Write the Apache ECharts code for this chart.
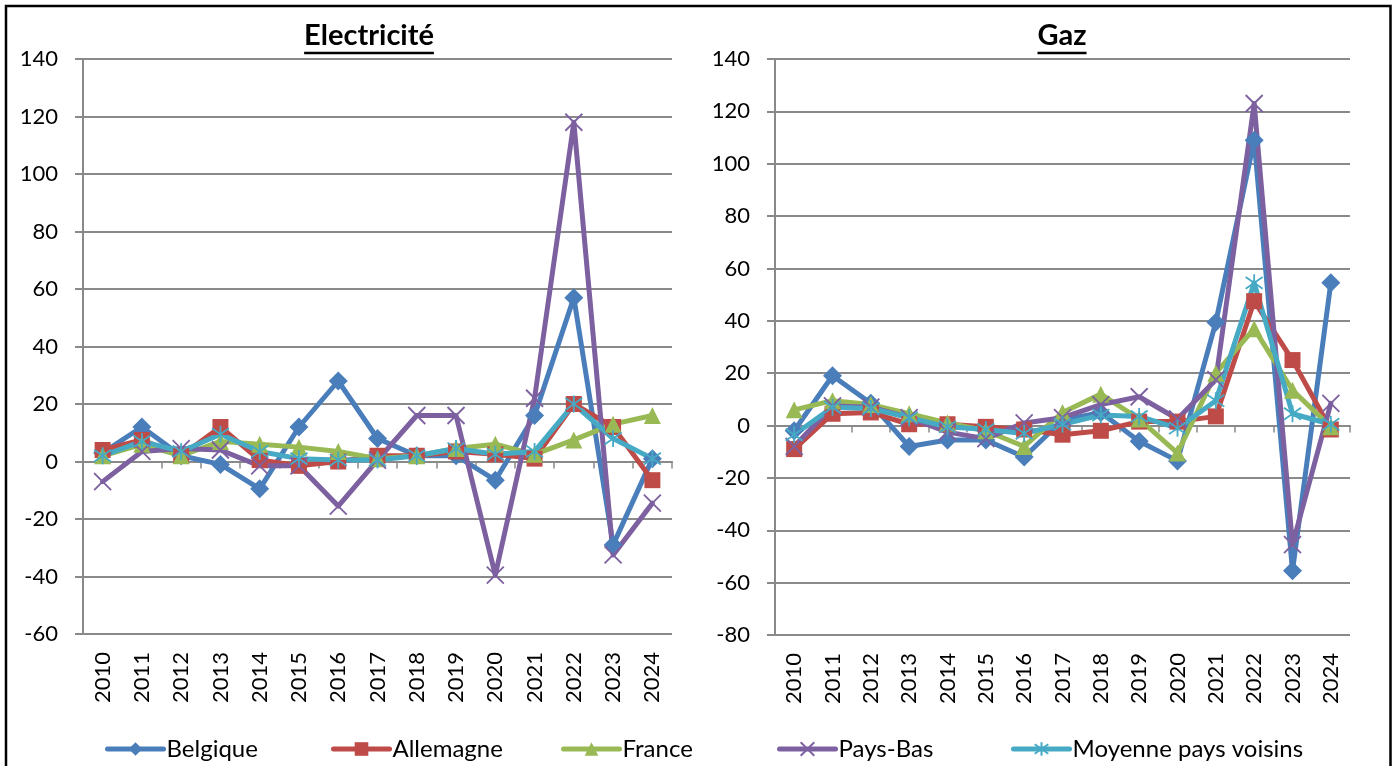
<!DOCTYPE html>
<html>
<head>
<meta charset="utf-8">
<title>Electricité / Gaz</title>
<script src="https://cdn.jsdelivr.net/npm/echarts@6.0.0/dist/echarts.min.js"></script>
<style>
  html, body { margin: 0; padding: 0; background: #fff; }
  #main { width: 1399px; height: 766px; }
</style>
</head>
<body>
<div id="main"></div>
<script>
// années (axe x)
var years = ['2010', '2011', '2012', '2013', '2014', '2015', '2016', '2017', '2018', '2019', '2020', '2021', '2022', '2023', '2024'];

// Electricité
var elecBelgique  = [3, 12, 2, -1, -9.5, 12, 28, 8, 2, 2, -6.5, 16, 57, -29, 1];
var elecAllemagne = [4, 7.5, 2, 12, 0.5, -1.5, 0, 2, 2, 3.5, 2.5, 1, 20, 12, -6.5];
var elecFrance    = [2, 6, 2, 7, 6, 5, 3.5, 1, 2, 4.5, 6, 2.5, 7.5, 13, 16];
var elecPaysBas   = [-7, 3.5, 4.5, 4, -1.5, -1.5, -15.5, 0.5, 16, 16, -39.5, 22, 118, -32.5, -14.5];
var elecMoyenne   = [2, 7, 3.5, 9.5, 3.5, 1, 0.5, 0.5, 2, 4.5, 2.5, 3.5, 20, 8, 1];

// Gaz
var gazBelgique  = [-2, 19, 8.5, -8, -5.5, -5.5, -12, 2, 5, -6, -13.5, 39.5, 109, -55.5, 54.5];
var gazAllemagne = [-9, 4.5, 5, 0.5, 0.5, -0.5, -1.5, -3.5, -2, 1.5, 1.5, 3.5, 47.5, 25, -1.5];
var gazFrance    = [6, 9.5, 8, 4.5, 1, -2, -8, 5, 12, 2.5, -10.5, 20, 37, 13.5, -0.5];
var gazPaysBas   = [-8, 7.5, 7, 3, -2.5, -5, 1, 3, 8, 11, 2.5, 17.5, 123, -45.5, 8.5];
var gazMoyenne   = [-3.5, 7, 6.5, 3, -0.5, -1.5, -3, 0.5, 4, 3.5, -1, 9.5, 54.5, 4.5, 0.5];

// bornes des axes y
var elecTicks = { min: -60, max: 140, interval: 20 };
var gazTicks  = { min: -80, max: 140, interval: 20 };

var FONT = 'Lato';
var GRAY = '#898989';

// style de chaque pays
var styles = {
    'Belgique':  { color: '#4A7EBB', symbol: 'diamond', size: 19 },
    'Allemagne': { color: '#BE4B48', symbol: 'rect', size: 16 },
    'France':    { color: '#98B954', symbol: 'triangle', size: 17 },
    'Pays-Bas':  { color: '#7D60A0', symbol: 'path://M0,0L10,10M10,0L0,10', size: 17, stroke: true },
    'Moyenne pays voisins': { color: '#46AAC5', symbol: 'path://M5,0L5,10M1.5,1.5L8.5,8.5M8.5,1.5L1.5,8.5', size: 17, stroke: true }
};

function makeSeries(name, data, idx) {
    var s = styles[name];
    return {
        name: name,
        type: 'line',
        data: data,
        xAxisIndex: idx * 2,
        yAxisIndex: idx,
        symbol: s.symbol,
        symbolSize: s.size,
        showAllSymbol: true,
        lineStyle: { color: s.color, width: 5, cap: 'round', join: 'round' },
        itemStyle: {
            color: s.color,
            borderColor: s.color,
            borderWidth: s.stroke ? 1.8 : 0
        },
        emphasis: { disabled: true },
        animation: false
    };
}

function xAxes(gridIdx) {
    return [
        // ligne du zéro avec graduations
        {
            type: 'category', gridIndex: gridIdx, data: years, position: 'bottom',
            boundaryGap: true,
            axisLine: { onZero: true, lineStyle: { color: GRAY, width: 2 } },
            axisTick: { show: true, length: 7, lineStyle: { color: GRAY, width: 1.5 } },
            axisLabel: { show: false },
            splitLine: { show: false }
        },
        // étiquettes en bas
        {
            type: 'category', gridIndex: gridIdx, data: years, position: 'bottom',
            boundaryGap: true,
            axisLine: { show: false, onZero: false },
            axisTick: { show: false },
            axisLabel: { rotate: 90, margin: 18, fontSize: 22, fontFamily: FONT, color: '#000' },
            splitLine: { show: false }
        }
    ];
}

function yAxis(gridIdx, t) {
    return {
        type: 'value', gridIndex: gridIdx,
        min: t.min, max: t.max, interval: t.interval,
        axisLine: { show: true, lineStyle: { color: GRAY, width: 2 } },
        axisTick: { show: true, length: 8, lineStyle: { color: GRAY, width: 2 } },
        axisLabel: { margin: 25, fontSize: 22, fontFamily: FONT, color: '#000' },
        splitLine: { show: true, lineStyle: { color: GRAY, width: 2 } }
    };
}

// largeur des titres pour le soulignement
var TITLE_FONT = 'bold 29px ' + FONT;
var ctx = document.createElement('canvas').getContext('2d');
ctx.font = TITLE_FONT;
function titleGraphic(text, cx) {
    var w = ctx.measureText(text).width;
    return [
        {
            type: 'text', x: cx, y: 50,
            style: { text: text, font: TITLE_FONT, fill: '#000', textAlign: 'center', textVerticalAlign: 'bottom' }
        },
        {
            type: 'line',
            shape: { x1: cx - w / 2, y1: 53, x2: cx + w / 2, y2: 53 },
            style: { stroke: '#000', lineWidth: 2.5 }
        }
    ];
}

function legendItem(name, left) {
    return {
        data: [name],
        left: left, top: 732,
        itemWidth: 56, itemHeight: 17, itemGap: 4,
        lineStyle: { width: 5, cap: 'round' },
        textStyle: { fontSize: 24, fontFamily: FONT, color: '#000', padding: [0, 0, 0, -2] },
        selectedMode: false
    };
}

var myChart = echarts.init(document.getElementById('main'));

var option = {
    backgroundColor: '#fff',
    animation: false,
    grid: [
        { left: 83, top: 59, width: 589, height: 575 },
        { left: 775, top: 59, width: 575, height: 576 }
    ],
    xAxis: xAxes(0).concat(xAxes(1)),
    yAxis: [yAxis(0, elecTicks), yAxis(1, gazTicks)],
    legend: [
        legendItem('Belgique', 100),
        legendItem('Allemagne', 326),
        legendItem('France', 556),
        legendItem('Pays-Bas', 772),
        legendItem('Moyenne pays voisins', 1006)
    ],
    graphic: [
        {
            type: 'rect',
            shape: { x: 6, y: 6, width: 1384.5, height: 800 },
            style: { fill: 'none', stroke: '#000', lineWidth: 2.5 },
            z: 100
        }
    ].concat(titleGraphic('Electricité', 369)).concat(titleGraphic('Gaz', 1062)),
    series: [
        makeSeries('Belgique', elecBelgique, 0),
        makeSeries('Allemagne', elecAllemagne, 0),
        makeSeries('France', elecFrance, 0),
        makeSeries('Pays-Bas', elecPaysBas, 0),
        makeSeries('Moyenne pays voisins', elecMoyenne, 0),
        makeSeries('Belgique', gazBelgique, 1),
        makeSeries('Allemagne', gazAllemagne, 1),
        makeSeries('France', gazFrance, 1),
        makeSeries('Pays-Bas', gazPaysBas, 1),
        makeSeries('Moyenne pays voisins', gazMoyenne, 1)
    ]
};

myChart.setOption(option);
</script>
</body>
</html>
